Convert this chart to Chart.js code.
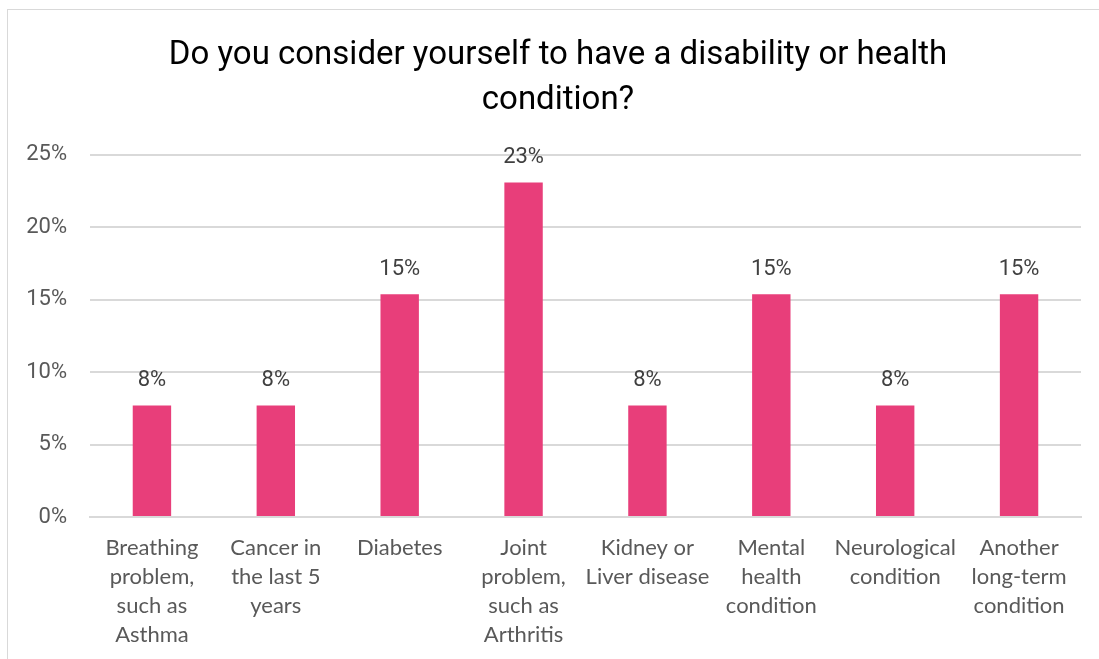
<!DOCTYPE html>
<html>
<head>
<meta charset="utf-8">
<script src="https://cdn.jsdelivr.net/npm/chart.js@4"></script>
<style>
  html, body { margin: 0; padding: 0; background: #fff; overflow: hidden; }
  .frame {
    position: absolute;
    left: 7px;
    top: 9px;
    width: 1100px;
    height: 660px;
    border: 1px solid #d9d9d9;
    background: #fff;
  }
  .frame canvas { position: absolute; left: 0; top: 0; }
</style>
</head>
<body>
<div class="frame">
  <canvas id="healthChart" width="1092" height="650"></canvas>
</div>
<script>
const categories = [
  ["Breathing", "problem,", "such as", "Asthma"],
  ["Cancer in", "the last 5", "years"],
  "Diabetes",
  ["Joint", "problem,", "such as", "Arthritis"],
  ["Kidney or", "Liver disease"],
  ["Mental", "health", "condition"],
  ["Neurological", "condition"],
  ["Another", "long-term", "condition"]
];
const shares = [7.69, 7.69, 15.38, 23.08, 7.69, 15.38, 7.69, 15.38];
const yTicks = [0, 5, 10, 15, 20, 25];

const barColor = "#E83E7A";

// value labels above each bar
const valueLabels = {
  id: "valueLabels",
  afterDatasetsDraw(chart) {
    const ctx = chart.ctx;
    const meta = chart.getDatasetMeta(0);
    ctx.save();
    ctx.font = "22px Roboto";
    ctx.fillStyle = "#404040";
    ctx.textAlign = "center";
    ctx.textBaseline = "middle";
    meta.data.forEach((bar, i) => {
      ctx.fillText(Math.round(shares[i]) + "%", bar.x, bar.y - 25);
    });
    ctx.restore();
  }
};

// centre the title on the whole frame rather than the padded area
const titleShift = {
  id: "titleShift",
  afterLayout(chart) {
    if (chart.titleBlock) {
      chart.titleBlock.left += 27;
    }
  }
};

const ctx = document.getElementById("healthChart").getContext("2d");
new Chart(ctx, {
  type: "bar",
  data: {
    labels: categories,
    datasets: [{
      data: shares,
      backgroundColor: barColor,
      borderWidth: 0,
      categoryPercentage: 1,
      barPercentage: 0.31
    }]
  },
  options: {
    responsive: false,
    animation: false,
    layout: { padding: { left: 0, right: 19, top: 0, bottom: 0 } },
    plugins: {
      legend: { display: false },
      tooltip: { enabled: false },
      title: {
        display: true,
        text: ["Do you consider yourself to have a disability or health", "condition?"],
        color: "#000",
        font: { family: "Roboto", size: 33, weight: "normal", lineHeight: 1.36 },
        padding: { top: 23, bottom: 32 }
      }
    },
    scales: {
      x: {
        grid: { display: false, drawTicks: false },
        border: { display: true, color: "#d9d9d9", width: 2 },
        ticks: {
          color: "#595959",
          font: { family: "Lato", size: 22, lineHeight: 1.32 },
          padding: 16,
          maxRotation: 0,
          autoSkip: false
        },
        afterFit(scale) { scale.height = 143; }
      },
      y: {
        min: 0,
        max: 25,
        afterBuildTicks(scale) { scale.ticks = yTicks.map((v) => ({ value: v })); },
        grid: { color: "#d9d9d9", lineWidth: 2, drawTicks: false },
        border: { display: false },
        ticks: {
          color: "#595959",
          font: { family: "Roboto", size: 22 },
          padding: 23,
          callback: (value) => value + "%"
        },
        afterFit(scale) { scale.width = 82; }
      }
    }
  },
  plugins: [valueLabels, titleShift]
});
</script>
</body>
</html>
